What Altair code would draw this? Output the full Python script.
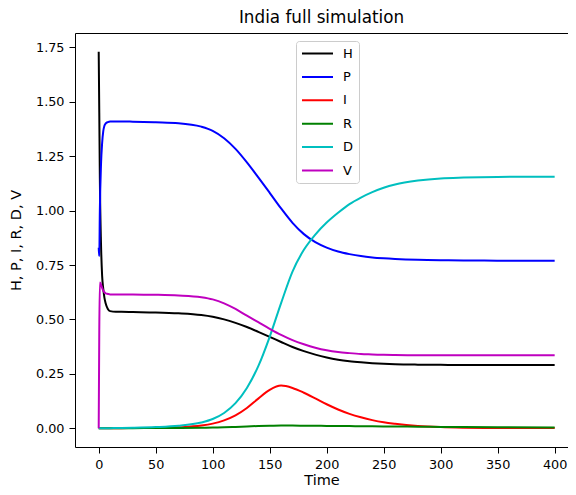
import altair as alt
import pandas as pd

# Time points
T = [0, 0.5, 1, 2, 3, 4, 5, 6, 8, 10, 15, 20, 30, 50, 70, 90, 100, 110, 120, 130,
     140, 150, 160, 170, 180, 190, 200, 210, 220, 230, 240, 250, 260, 280, 300, 320, 350, 400]

H = [1.73, 1.45, 1.15, 0.85, 0.70, 0.64, 0.60, 0.575, 0.548, 0.538, 0.535, 0.535, 0.534, 0.532,
     0.528, 0.52, 0.512, 0.50, 0.484, 0.465, 0.443, 0.42, 0.396, 0.373, 0.354, 0.338, 0.325, 0.315,
     0.308, 0.303, 0.299, 0.296, 0.294, 0.292, 0.291, 0.29, 0.29, 0.29]
P = [0.83, 0.79, 1.0, 1.21, 1.31, 1.365, 1.39, 1.40, 1.407, 1.41, 1.41, 1.41, 1.409, 1.406,
     1.402, 1.386, 1.367, 1.333, 1.284, 1.222, 1.153, 1.082, 1.01, 0.944, 0.892, 0.855, 0.83,
     0.812, 0.8, 0.791, 0.785, 0.781, 0.778, 0.774, 0.772, 0.771, 0.77, 0.77]
I = [0, 0, 0, 0, 0, 0, 0, 0, 0, 0, 0, 0, 0.0005, 0.001, 0.004, 0.012, 0.021, 0.036, 0.059, 0.093,
     0.136, 0.176, 0.196, 0.185, 0.163, 0.137, 0.11, 0.086, 0.066, 0.05, 0.037, 0.027, 0.02,
     0.01, 0.005, 0.0025, 0.001, 0.0003]
R = [0, 0, 0, 0, 0, 0, 0, 0, 0, 0, 0, 0.0001, 0.0002, 0.0005, 0.001, 0.002, 0.003, 0.004, 0.006,
     0.008, 0.01, 0.011, 0.012, 0.012, 0.0115, 0.011, 0.0105, 0.01, 0.0095, 0.009, 0.0085, 0.008,
     0.0075, 0.007, 0.006, 0.005, 0.004, 0.003]
D = [0, 0, 0, 0, 0, 0, 0, 0, 0, 0, 0.0005, 0.001, 0.002, 0.005, 0.011, 0.026, 0.042, 0.07, 0.115,
     0.185, 0.285, 0.42, 0.575, 0.72, 0.82, 0.89, 0.945, 0.99, 1.03, 1.06, 1.085, 1.105, 1.12,
     1.138, 1.148, 1.152, 1.155, 1.156]
V = [0, 0.45, 0.67, 0.66, 0.645, 0.632, 0.625, 0.62, 0.617, 0.615, 0.615, 0.615, 0.614, 0.613,
     0.61, 0.602, 0.592, 0.574, 0.548, 0.517, 0.487, 0.457, 0.429, 0.405, 0.386, 0.37, 0.358, 0.35,
     0.345, 0.341, 0.339, 0.337, 0.336, 0.335, 0.335, 0.335, 0.335, 0.335]

SERIES = ["H", "P", "I", "R", "D", "V"]
COLORS = ["#000000", "#0000ff", "#ff0000", "#008000", "#00bfbf", "#bf00bf"]
VALUES = {"H": H, "P": P, "I": I, "R": R, "D": D, "V": V}

X_TICKS = [0, 50, 100, 150, 200, 250, 300, 350, 400]
Y_TICKS = [0, 0.25, 0.5, 0.75, 1.0, 1.25, 1.5, 1.75]

rows = []
for s in SERIES:
    for k, (t, v) in enumerate(zip(T, VALUES[s])):
        rows.append({"Time": t, "value": v, "series": s, "ord": k})
df = pd.DataFrame(rows)

FONT = "DejaVu Sans"
xscale = alt.Scale(domain=[-20.8, 411.7], nice=False, zero=False)
yscale = alt.Scale(domain=[-0.0865, 1.8165], nice=False, zero=False)

lines = alt.Chart(df).mark_line(strokeWidth=2, interpolate="monotone").encode(
    x=alt.X("Time:Q", scale=xscale,
            axis=alt.Axis(values=X_TICKS, title="Time", titlePadding=3, labelPadding=5)),
    y=alt.Y("value:Q", scale=yscale,
            axis=alt.Axis(values=Y_TICKS, format=".2f", title="H, P, I, R, D, V",
                          titlePadding=12, labelPadding=5)),
    color=alt.Color("series:N",
                    scale=alt.Scale(domain=SERIES, range=COLORS),
                    sort=SERIES,
                    legend=alt.Legend(title=None, orient="none", legendX=221, legendY=8,
                                      symbolType="stroke", symbolStrokeWidth=2,
                                      symbolSize=961, symbolOffset=0, clipHeight=15,
                                      labelFontSize=13, labelFont=FONT,
                                      labelColor="black", rowPadding=8.4, labelOffset=9,
                                      padding=5, strokeColor="#cccccc", fillColor="white",
                                      cornerRadius=3)),
    order=alt.Order("ord:Q"),
)

# invisible layer carrying the top spine
top = alt.Chart(df).mark_line(strokeOpacity=0).encode(
    x=alt.X("Time:Q", scale=xscale,
            axis=alt.Axis(orient="top", labels=False, ticks=False, title=None, domain=True)),
    y=alt.Y("value:Q", scale=yscale, axis=None),
    detail="series:N",
)

chart = alt.layer(lines, top).resolve_axis(x="independent", y="independent").properties(
    width=493,
    height=414,
    title=alt.TitleParams("India full simulation", font=FONT, fontSize=16.8,
                          fontWeight="normal", color="black", offset=6, anchor="middle"),
    autosize=alt.AutoSizeParams(type="none"),
    padding={"left": 67, "top": 25, "right": 0, "bottom": 40},
).configure_view(
    stroke=None
).configure_axis(
    grid=False, domainColor="black", domainWidth=1, tickColor="black", tickSize=6, tickWidth=1,
    labelFont=FONT, labelFontSize=12.8, labelColor="black",
    titleFont=FONT, titleFontSize=14.5, titleFontWeight="normal", titleColor="black"
)

chart.save("out.html", embed_options={"renderer": "svg", "actions": False})
